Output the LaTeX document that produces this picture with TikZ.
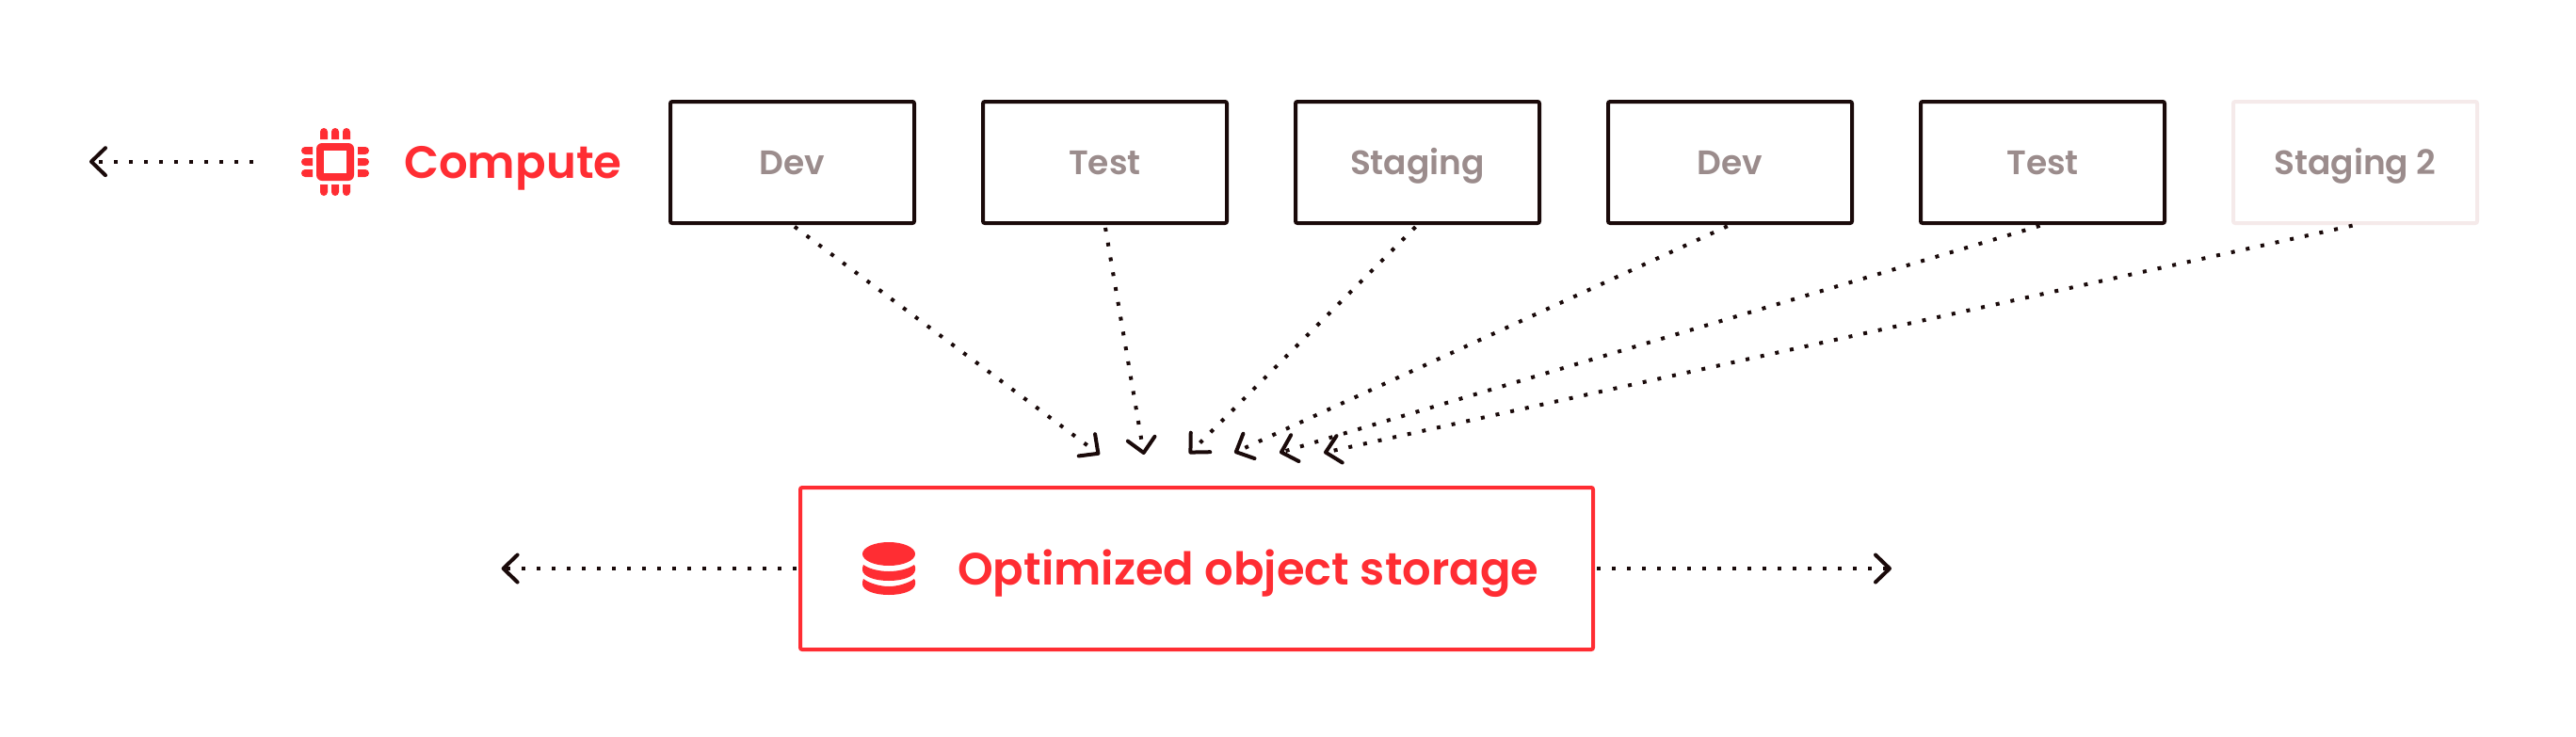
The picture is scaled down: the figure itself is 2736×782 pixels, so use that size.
\documentclass[tikz,border=0pt]{standalone}
\usepackage{fontspec}
\usetikzlibrary{arrows.meta}
\setmainfont{Poppins SemiBold}
\definecolor{brandred}{HTML}{FF2D33}
\definecolor{inkdark}{HTML}{1A0A0A}
\definecolor{softgrey}{HTML}{9B8C8C}
\definecolor{palebox}{HTML}{F5EAEA}
\tikzset{
  envbox/.style={draw=inkdark,line width=4pt,rounded corners=2pt,minimum width=259pt,minimum height=129pt,text=softgrey,font=\fontsize{36}{40}\selectfont,inner sep=0pt,text height=26.4pt,text depth=0pt},
  palebx/.style={envbox,draw=palebox},
  storebox/.style={draw=brandred,line width=4pt,rounded corners=2pt,minimum width=842pt,minimum height=172pt,inner sep=0pt},
  redlabel/.style={text=brandred,inner sep=0pt,anchor=base west},
  flow/.style={draw=inkdark,line width=4pt,dash pattern=on 4pt off 12pt,
    -{Straight Barb[length=15pt,width=29pt,line width=4pt,round,inkdark]}},
}
\begin{document}
\begin{tikzpicture}[x=1pt,y=-1pt]
\useasboundingbox (0,0) rectangle (2736,782);
\fill[white] (0,0) rectangle (2736,782);
% boxes
\node[envbox] (b1) at (841.5,172.5) {Dev};
\node[envbox] (b2) at (1173.5,172.5) {Test};
\node[envbox] (b3) at (1505.5,172.5) {Staging};
\node[envbox] (b4) at (1837.5,172.5) {Dev};
\node[envbox] (b5) at (2169.5,172.5) {Test};
\node[palebx] (b6) at (2501.5,172.5) {Staging 2};
\node[storebox] (store) at (1271,604) {};
\node[redlabel,font=\fontsize{48}{56}\selectfont] (storelabel) at (1017,621) {Optimized object storage};
\node[redlabel,font=\fontsize{48.2}{56}\selectfont] (computelabel) at (429,189) {Compute};
% targets
\coordinate (t1) at (1168,483);
\coordinate (t2) at (1215,483);
\coordinate (t3) at (1263,482);
\coordinate (t4) at (1311,481);
\coordinate (t5) at (1359,481);
\coordinate (t6) at (1406,481);
\coordinate (cstart) at (269,171.7);
\coordinate (ctip) at (95,171.7);
\coordinate (sl) at (532.6,604);
\coordinate (sr) at (2009,604);
% connectors
\draw[flow,shorten <=3pt] (b1.south) -- (t1);
\draw[flow,shorten <=3pt] (b2.south) -- (t2);
\draw[flow,shorten <=3pt] (b3.south) -- (t3);
\draw[flow,shorten <=3pt] (b4.south) -- (t4);
\draw[flow,shorten <=3pt] (b5.south) -- (t5);
\draw[flow,shorten <=3pt] (b6.south) -- (t6);
\draw[flow] (cstart) -- (ctip);
\draw[flow,shorten <=2pt] (store.west) -- (sl);
\draw[flow,shorten <=2pt] (store.east) -- (sr);
% chip icon
\fill[brandred,rounded corners=6pt] (336,152) rectangle (376,192);
\fill[white] (344,160) rectangle (368,184);
\foreach \px in {340,352,364}{
  \fill[brandred] (\px,148) -- (\px,140) .. controls (\px,137.8) and (\px+1.8,136) .. (\px+4,136) .. controls (\px+6.2,136) and (\px+8,137.8) .. (\px+8,140) -- (\px+8,148) -- cycle;
  \fill[brandred] (\px,196) -- (\px,204) .. controls (\px,206.2) and (\px+1.8,208) .. (\px+4,208) .. controls (\px+6.2,208) and (\px+8,206.2) .. (\px+8,204) -- (\px+8,196) -- cycle;
}
\foreach \py in {156,168,180}{
  \fill[brandred] (332,\py) -- (324,\py) .. controls (321.8,\py) and (320,\py+1.8) .. (320,\py+4) .. controls (320,\py+6.2) and (321.8,\py+8) .. (324,\py+8) -- (332,\py+8) -- cycle;
  \fill[brandred] (380,\py) -- (388,\py) .. controls (390.2,\py) and (392,\py+1.8) .. (392,\py+4) .. controls (392,\py+6.2) and (390.2,\py+8) .. (388,\py+8) -- (380,\py+8) -- cycle;
}
% database icon
\fill[brandred] (944,588.5) ellipse[x radius=28,y radius=12.5];
\fill[brandred] (917,600) .. controls (924,605) and (935,607) .. (944,607) .. controls (953,607) and (964,605) .. (971,600) .. controls (973,603) and (972,606) .. (972,606) .. controls (971,613) and (958,617) .. (944,617) .. controls (930,617) and (917,613) .. (916,606) .. controls (916,604) and (916,602) .. (917,600) -- cycle;
\fill[brandred] (917,615) .. controls (924,620) and (935,623) .. (944,623) .. controls (953,623) and (964,620) .. (971,615) .. controls (973,618) and (972,621) .. (972,621) .. controls (971,628) and (958,632) .. (944,632) .. controls (930,632) and (917,628) .. (916,621) .. controls (916,619) and (916,617) .. (917,615) -- cycle;
\end{tikzpicture}
\end{document}
